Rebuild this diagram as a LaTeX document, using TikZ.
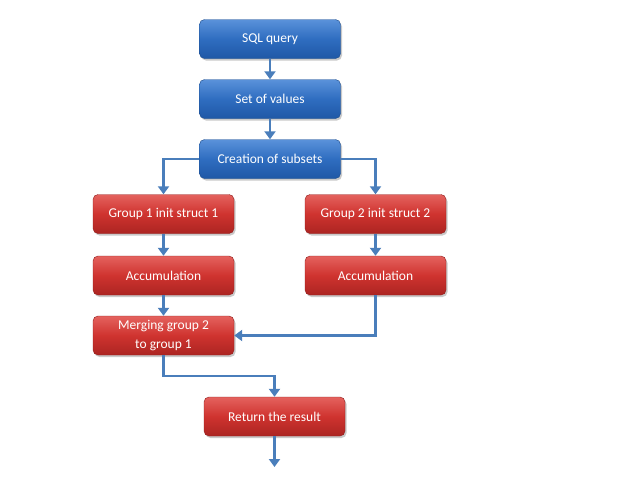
\documentclass[tikz,border=0pt]{standalone}
\usepackage{fontspec}
\setmainfont{Carlito}
\usetikzlibrary{shadows,arrows.meta}
\definecolor{bluetop}{HTML}{5A92DA}
\definecolor{bluemid}{HTML}{2F6DC0}
\definecolor{bluebot}{HTML}{1F58A6}
\definecolor{redtop}{HTML}{E4625E}
\definecolor{redmid}{HTML}{CF332F}
\definecolor{redbot}{HTML}{AC2522}
\definecolor{arrowblue}{HTML}{4A7EBB}
\tikzset{
  box/.style={rounded corners=5pt, minimum width=141pt, minimum height=39pt,
    inner sep=2pt, align=center, text=white, font=\fontsize{13.5}{19}\selectfont,
    drop shadow={shadow xshift=1.5pt, shadow yshift=-2pt, opacity=0.35, fill=black!60}},
  bluebox/.style={box, top color=bluetop, bottom color=bluebot, middle color=bluemid, draw=bluebot!85!black, line width=0.4pt},
  redbox/.style={box, top color=redtop, bottom color=redbot, middle color=redmid, draw=redbot!85!black, line width=0.4pt},
  conn/.style={draw=arrowblue, line width=2.3pt, -{Triangle[length=8pt,width=11pt]}}
}
\begin{document}
\begin{tikzpicture}[x=1pt,y=-1pt]
\useasboundingbox[fill=white] (0,0) rectangle (640,480);
\node[bluebox] (sql) at (270,39) {SQL query};
\node[bluebox] (set) at (270,99) {Set of values};
\node[bluebox] (cre) at (270,159) {Creation of subsets};
\node[redbox] (g1) at (163.5,214) {Group 1 init struct 1};
\node[redbox] (g2) at (375.5,214) {Group 2 init struct 2};
\node[redbox] (a1) at (163.5,275.5) {Accumulation};
\node[redbox] (a2) at (375.5,275.5) {Accumulation};
\node[redbox] (mg) at (163.5,335.5) {Merging group 2\\to group 1};
\node[redbox] (ret) at (274.5,416.5) {Return the result};
\coordinate (end) at (274.5,467);
\draw[conn] (sql) -- (set);
\draw[conn] (set) -- (cre);
\draw[conn] (cre.west) -| (g1.north);
\draw[conn] (cre.east) -| (g2.north);
\draw[conn] (g1) -- (a1);
\draw[conn] (g2) -- (a2);
\draw[conn] (a1) -- (mg);
\draw[conn] (a2.south) |- (mg.east);
\draw[conn] (mg.south) -- ++(0,21) -| (ret.north);
\draw[conn] (ret.south) -- (end);
\end{tikzpicture}
\end{document}
